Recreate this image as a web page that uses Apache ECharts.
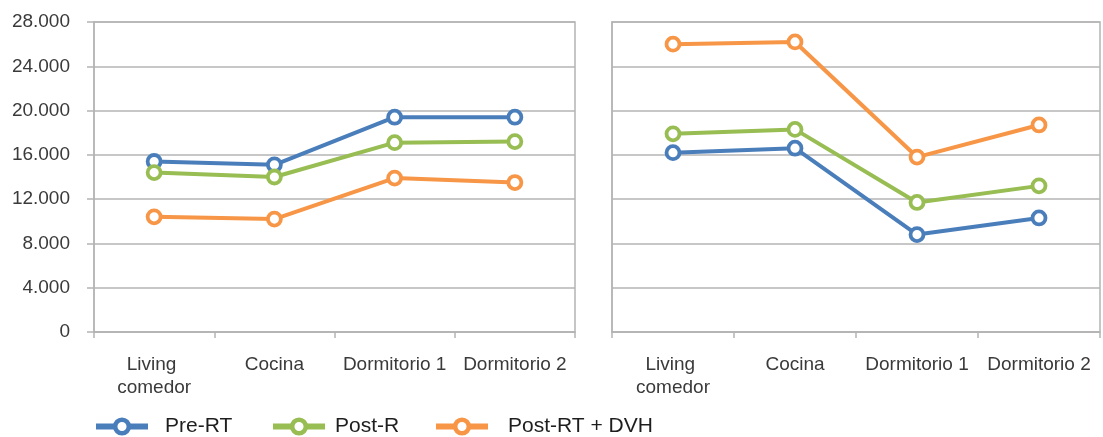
<!DOCTYPE html>
<html>
<head>
<meta charset="utf-8">
<script src="https://cdn.jsdelivr.net/npm/echarts@6/dist/echarts.min.js"></script>
<style>
  html, body { margin: 0; padding: 0; background: #fff; }
  #chart { width: 1103px; height: 437px; }
</style>
</head>
<body>
<div id="chart"></div>
<script>
// Rooms along the x axis
const categories = ['Living comedor', 'Cocina', 'Dormitorio 1', 'Dormitorio 2'];
const seriesNames = ['Pre-RT', 'Post-R', 'Post-RT + DVH'];

// Left panel values
const preRT_left = [15400, 15100, 19400, 19400];
const postR_left = [14400, 14000, 17100, 17200];
const postDVH_left = [10400, 10200, 13900, 13500];

// Right panel values
const preRT_right = [16200, 16600, 8800, 10300];
const postR_right = [17900, 18300, 11700, 13200];
const postDVH_right = [26000, 26200, 15800, 18700];

// Value axis range
const yMin = 0;
const yMax = 28000;
const yStep = 4000;

const colors = ['#4a7ebb', '#97bd53', '#f79646'];
const gridColor = '#b4b4b4';
const font = '"Liberation Sans", Arial, sans-serif';

function fmtThousands(v) {
  return String(v).replace(/\B(?=(\d{3})+(?!\d))/g, '.');
}

function makeSeries(name, data, idx, axisIdx) {
  return {
    name: name,
    type: 'line',
    xAxisIndex: axisIdx,
    yAxisIndex: axisIdx,
    data: data,
    symbol: 'circle',
    symbolSize: 13,
    showSymbol: true,
    lineStyle: { color: colors[idx], width: 4 },
    itemStyle: { color: '#fff', borderColor: colors[idx], borderWidth: 3.8 },
    emphasis: { disabled: true },
    z: 3 + idx
  };
}

function xAxis(gridIndex) {
  return {
    type: 'category',
    gridIndex: gridIndex,
    data: categories,
    boundaryGap: true,
    axisLine: { lineStyle: { color: gridColor, width: 1.5 } },
    axisTick: { show: true, length: 6, lineStyle: { color: gridColor, width: 1.5 } },
    axisLabel: {
      interval: 0,
      margin: 21,
      width: 112,
      overflow: 'break',
      fontFamily: font,
      fontSize: 19,
      lineHeight: 23,
      color: '#3a3a3a'
    }
  };
}

function yAxis(gridIndex, showLabels) {
  return {
    type: 'value',
    gridIndex: gridIndex,
    min: yMin,
    max: yMax,
    interval: yStep,
    axisLine: { show: true, lineStyle: { color: gridColor, width: 1.5 } },
    axisTick: { show: showLabels, length: 7, lineStyle: { color: gridColor, width: 1.5 } },
    splitLine: { show: true, lineStyle: { color: gridColor, width: 1.5 } },
    axisLabel: {
      show: showLabels,
      margin: 24,
      fontFamily: font,
      fontSize: 19,
      color: '#3a3a3a',
      formatter: fmtThousands
    }
  };
}

function legendAt(left, name, pad) {
  return {
    left: left,
    top: 416,
    padding: 0,
    data: [name],
    itemWidth: 52,
    itemHeight: 17,
    lineStyle: { width: 6 },
    itemStyle: { borderWidth: 4.5 },
    selectedMode: false,
    textStyle: {
      fontFamily: font,
      fontSize: 21,
      color: '#1e1e1e',
      padding: [0, 0, 0, pad]
    }
  };
}

const chart = echarts.init(document.getElementById('chart'), null, { renderer: 'canvas' });

chart.setOption({
  animation: false,
  backgroundColor: '#ffffff',
  grid: [
    { left: 94, top: 22, width: 481, height: 310, show: true, borderColor: gridColor, borderWidth: 1.5, containLabel: false },
    { left: 612, top: 22, width: 488, height: 310, show: true, borderColor: gridColor, borderWidth: 1.5, containLabel: false }
  ],
  xAxis: [xAxis(0), xAxis(1)],
  yAxis: [yAxis(0, true), yAxis(1, false)],
  legend: [
    legendAt(93, seriesNames[0], 12),
    legendAt(270, seriesNames[1], 5),
    legendAt(433, seriesNames[2], 15)
  ],
  series: [
    makeSeries(seriesNames[0], preRT_left, 0, 0),
    makeSeries(seriesNames[1], postR_left, 1, 0),
    makeSeries(seriesNames[2], postDVH_left, 2, 0),
    makeSeries(seriesNames[0], preRT_right, 0, 1),
    makeSeries(seriesNames[1], postR_right, 1, 1),
    makeSeries(seriesNames[2], postDVH_right, 2, 1)
  ]
});
</script>
</body>
</html>
